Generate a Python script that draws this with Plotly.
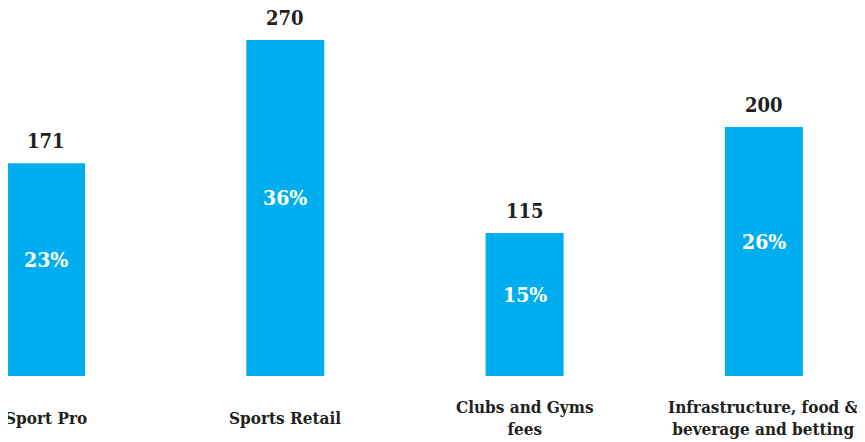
import plotly.graph_objects as go

categories = ["Sport Pro", "Sports Retail", "Clubs and Gyms<br>fees", "Infrastructure, food &<br>beverage and betting"]
values = [171, 270, 115, 200]
shares = ["23%", "36%", "15%", "26%"]

FONT = "DejaVu Serif Condensed, DejaVu Serif, serif"
BLUE = "#00AEEF"
DARK = "#231F20"

xs = list(range(len(categories)))

fig = go.Figure()
fig.add_trace(go.Bar(
    x=xs, y=values, width=0.326, marker=dict(color=BLUE, line=dict(width=0)),
    hoverinfo="skip",
))

ann = []
for x, v, s, c in zip(xs, values, shares, categories):
    ann.append(dict(x=x, y=v, xref="x", yref="y", text=f"<b>{v}</b>", showarrow=False,
                    yanchor="bottom", yshift=8, font=dict(family=FONT, size=20, color=DARK)))
    ann.append(dict(x=x, y=v / 2, xref="x", yref="y", text=f"<b>{s}</b>", showarrow=False,
                    yanchor="middle", yshift=10, font=dict(family=FONT, size=21, color="white")))
    ann.append(dict(x=x, y=0, xref="x", yref="paper", text=f"<b>{c}</b>", showarrow=False,
                    yanchor="middle", yshift=-42, align="center",
                    font=dict(family=FONT, size=17, color=DARK)))

fig.update_layout(
    width=857, height=434,
    margin=dict(l=0, r=0, t=0, b=66),
    paper_bgcolor="white", plot_bgcolor="white",
    showlegend=False,
    annotations=ann,
    xaxis=dict(range=[-0.1588, 3.4225], showticklabels=False, showgrid=False, zeroline=False,
               showline=False, ticks=""),
    yaxis=dict(range=[0, 295.7], showticklabels=False, showgrid=False, zeroline=False,
               showline=False, ticks=""),
)

fig.write_html("out.html")
